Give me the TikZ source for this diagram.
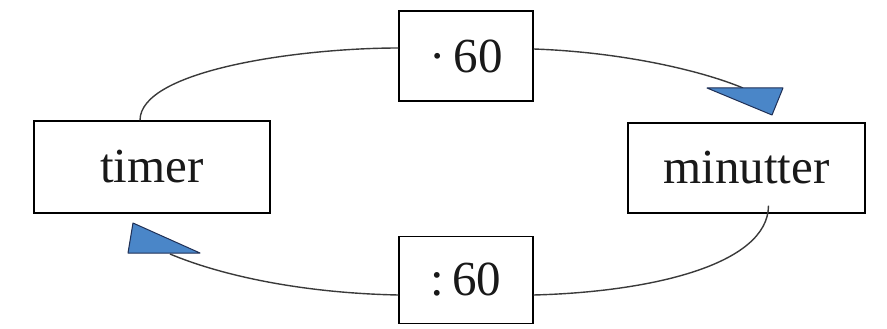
\documentclass[tikz,border=0pt]{standalone}
\usepackage{fontspec}
\setmainfont{Liberation Serif}
\definecolor{headblue}{HTML}{4A86C8}
\definecolor{headline}{HTML}{1F2F55}
\definecolor{wire}{HTML}{3A3A3A}
\begin{document}
\begin{tikzpicture}[x=1pt,y=-1pt,
  box/.style={draw=black,line width=1.4pt,fill=white,inner sep=0pt,font=\fontsize{49}{56}\selectfont,text=black!90},
  wireline/.style={draw=wire,line width=1.4pt},
  headshape/.style={fill=headblue,draw=headline,line width=1pt,line join=round}]
\useasboundingbox (0,0) rectangle (887,329);
\node[box,minimum width=236pt,minimum height=92pt] (timer) at (152,167) {timer};
\node[box,minimum width=237pt,minimum height=90pt] (min) at (746.5,168) {minutter};
\node[box,minimum width=134pt,minimum height=90pt] (mul) at (466,56) {·\,60};
\node[box,minimum width=134pt,minimum height=87pt] (div) at (466,280) {:\,60};
\coordinate (tipA) at (743,88);
\coordinate (tipB) at (170,254);
% top connector
\draw[wireline] ([xshift=-12pt]timer.north) .. controls (140,70) and (300,48) .. (mul.west |- 0,48);
\draw[wireline] (mul.east |- 0,49) .. controls (620,52) and (700,70) .. (tipA);
\draw[headshape] (707,88) -- (783,88) -- (772,115) -- cycle;
% bottom connector
\draw[wireline] ([xshift=22pt,yshift=8pt]min.south) .. controls (768,265) and (650,292) .. (div.east |- 0,295);
\draw[wireline] (div.west |- 0,295) .. controls (300,293) and (220,275) .. (tipB);
\draw[headshape] (133,223) -- (128,253) -- (200,253) -- cycle;
\end{tikzpicture}
\end{document}
